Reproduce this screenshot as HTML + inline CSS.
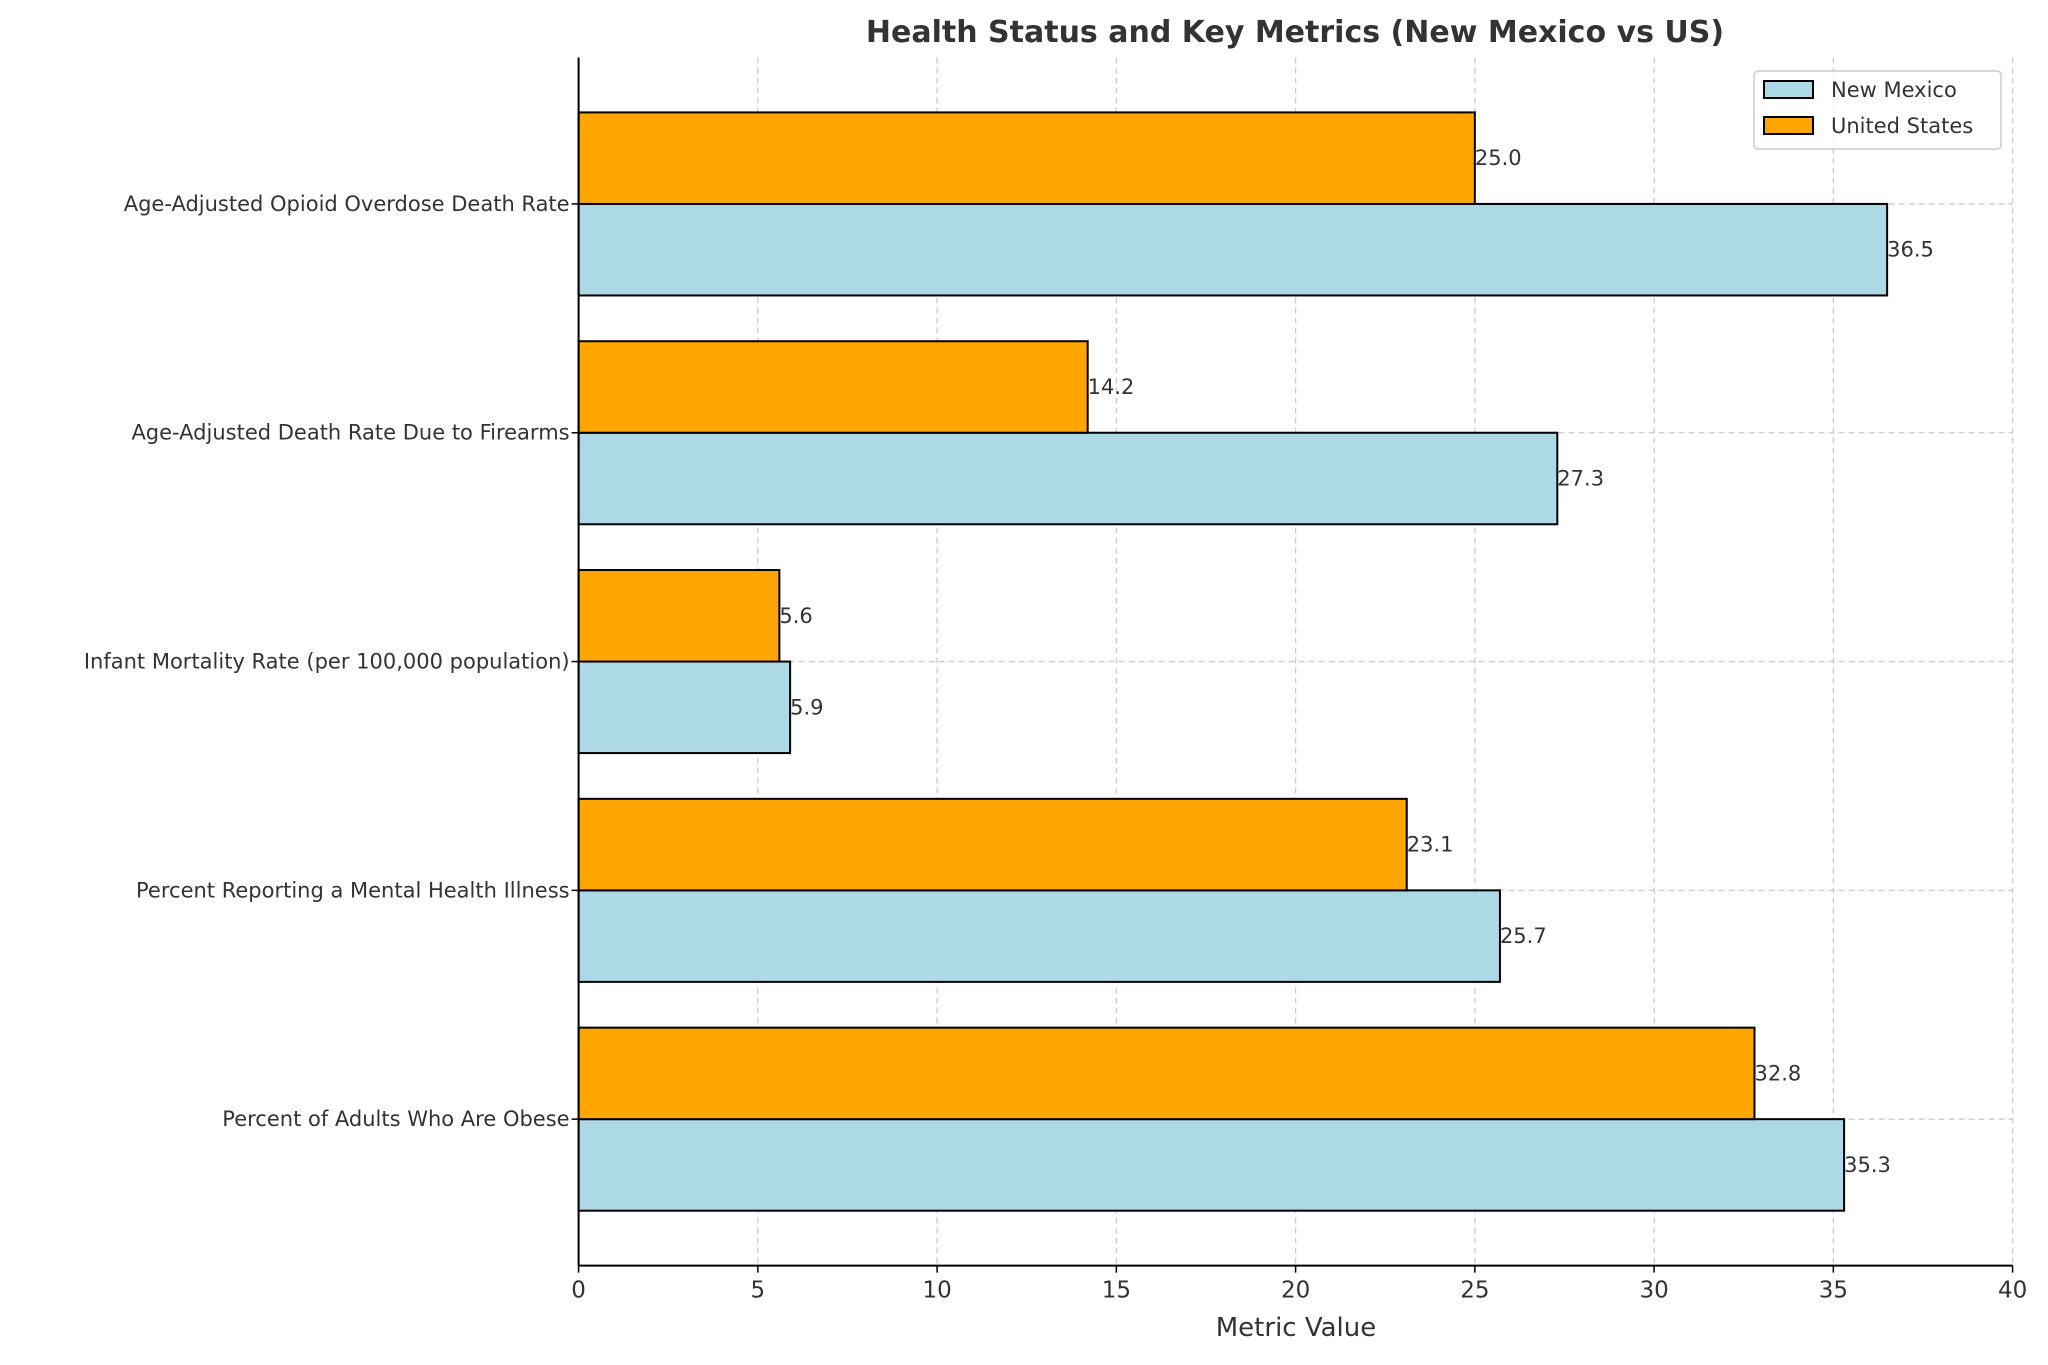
<!DOCTYPE html>
<html><head><meta charset="utf-8"><style>
body{margin:0;background:#fff;}
svg text{font-family:"DejaVu Sans","Liberation Sans",sans-serif;fill:#333;}
</style></head><body>
<svg id="chart" width="2048" height="1360" viewBox="0 0 2048 1360" xmlns="http://www.w3.org/2000/svg">
<text x="1295" y="42" font-size="30" font-weight="bold" text-anchor="middle">Health Status and Key Metrics (New Mexico vs US)</text>
<g id="grid"></g><g id="bars"></g><g id="axes"></g>
<g>
<rect x="1754" y="71" width="247" height="78" rx="4" fill="#fff" fill-opacity="0.8" stroke="#ccc" stroke-width="1.5"/>
<rect x="1764" y="81" width="49" height="17" fill="#add8e6" stroke="#000" stroke-width="2"/>
<text x="1831" y="97" font-size="21">New Mexico</text>
<rect x="1764" y="117" width="49" height="17" fill="#ffa500" stroke="#000" stroke-width="2"/>
<text x="1831" y="133" font-size="21">United States</text>
</g>
<text x="1296" y="1336" font-size="26" text-anchor="middle">Metric Value</text>
</svg>
<script>
const categories=["Percent of Adults Who Are Obese","Percent Reporting a Mental Health Illness","Infant Mortality Rate (per 100,000 population)","Age-Adjusted Death Rate Due to Firearms","Age-Adjusted Opioid Overdose Death Rate"];
const newMexico=[35.3,25.7,5.9,27.3,36.5];
const unitedStates=[32.8,23.1,5.6,14.2,25.0];
const xTicks=[0,5,10,15,20,25,30,35,40];

const L=578.6,R=2012.6,T=57.5,B=1265.6,xMin=0,xMax=40,yMin=-0.64,yMax=4.64,bw=0.4;
const NS="http://www.w3.org/2000/svg";
const xs=v=>L+(v-xMin)/(xMax-xMin)*(R-L);
const ys=v=>B-(v-yMin)/(yMax-yMin)*(B-T);
function mk(tag,attrs,parent,text){const e=document.createElementNS(NS,tag);for(const k in attrs)e.setAttribute(k,attrs[k]);if(text!==undefined)e.textContent=text;document.getElementById(parent).appendChild(e);return e;}
xTicks.forEach(t=>{
 const g=mk('line',{x1:xs(t),x2:xs(t),y1:T,y2:B,stroke:'#ccc','stroke-width':1.3,'stroke-dasharray':'6,4'},'grid');
 
 
 const tk=mk('line',{x1:xs(t),x2:xs(t),y1:B,y2:B+7,stroke:'#000','stroke-width':1.5},'axes');
 
 
 const tl=mk('text',{x:xs(t),y:B+32,'font-size':23,'text-anchor':'middle'},'axes',String(t));
 
 
});
categories.forEach((c,i)=>{
 const g=mk('line',{x1:L,x2:R,y1:ys(i),y2:ys(i),stroke:'#ccc','stroke-width':1.3,'stroke-dasharray':'6,4'},'grid');
 
 
 const tk=mk('line',{x1:L-7,x2:L,y1:ys(i),y2:ys(i),stroke:'#000','stroke-width':1.5},'axes');
 
 
 const tl=mk('text',{x:L-9,y:ys(i)+7,'font-size':21,'text-anchor':'end'},'axes',c);
 
 
 // New Mexico (below center)
 const y0=ys(i),y1=ys(i-bw);
 const b1=mk('rect',{x:xs(0),y:y0,width:xs(newMexico[i])-xs(0),height:y1-y0,fill:'#add8e6',stroke:'#000','stroke-width':2},'bars');
 
 
 const l1=mk('text',{x:xs(newMexico[i]),y:(y0+y1)/2+7,'font-size':21},'bars',newMexico[i].toFixed(1));
 
 
 const y2=ys(i+bw);
 const b2=mk('rect',{x:xs(0),y:y2,width:xs(unitedStates[i])-xs(0),height:y0-y2,fill:'#ffa500',stroke:'#000','stroke-width':2},'bars');
 
 
 const l2=mk('text',{x:xs(unitedStates[i]),y:(y0+y2)/2+7,'font-size':21},'bars',unitedStates[i].toFixed(1));
 
 
});
const ax=mk('line',{x1:L,x2:L,y1:T,y2:B,stroke:'#000','stroke-width':2},'axes');


const bx=mk('line',{x1:L,x2:R,y1:B,y2:B,stroke:'#000','stroke-width':2},'axes');


</script>
</body></html>
